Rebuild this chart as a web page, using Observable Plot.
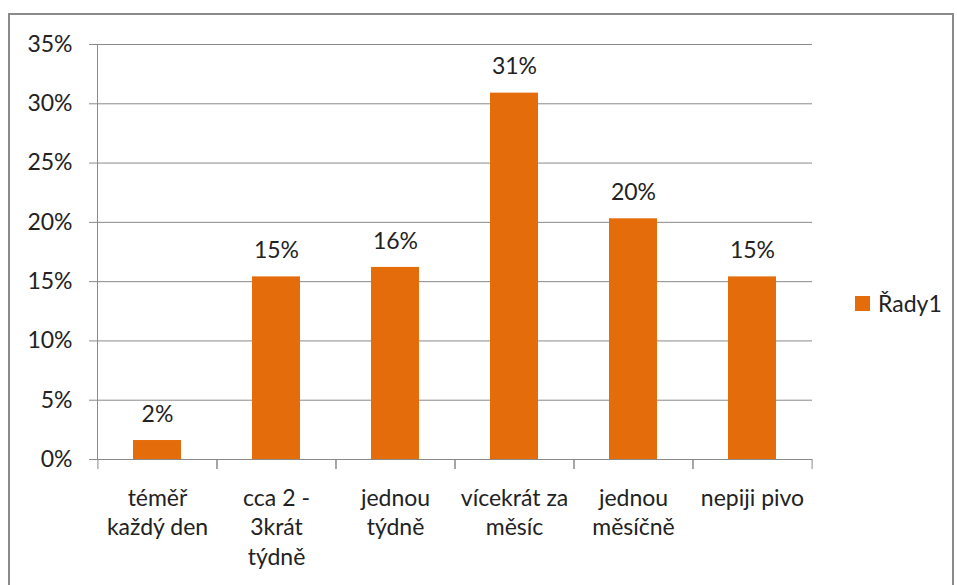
<!DOCTYPE html>
<html>
<head>
<meta charset="utf-8">
<script src="https://cdn.jsdelivr.net/npm/d3@7"></script>
<script src="https://cdn.jsdelivr.net/npm/@observablehq/plot@0.6"></script>
<style>
  html, body { margin: 0; padding: 0; background: #fff; }
  #wrap { position: relative; width: 957px; height: 585px; overflow: hidden; font-family: Lato, sans-serif; }
  #border { position: absolute; left: 8px; top: 13px; width: 946px; height: 620px; box-sizing: border-box; border: 2px solid #8a8a8a; }
  #chart { position: absolute; left: 0; top: 0; }
  #legend { position: absolute; left: 855px; top: 289px; display: flex; align-items: center; font-size: 23px; color: #222; }
  #legend .sw { width: 15px; height: 15px; margin-right: 8px; }
</style>
</head>
<body>
<div id="wrap">
  <div id="border"></div>
  <div id="chart"></div>
  <div id="legend"><div class="sw"></div><span id="legendText"></span></div>
</div>
<script>
const categories = ["téměř každý den", "cca 2 - 3krát týdně", "jednou týdně", "vícekrát za měsíc", "jednou měsíčně", "nepiji pivo"];
const tickLabels = ["téměř\nkaždý den", "cca 2 -\n3krát\ntýdně", "jednou\ntýdně", "vícekrát za\nměsíc", "jednou\nměsíčně", "nepiji pivo"];
const values = [1.6, 15.4, 16.2, 30.9, 20.3, 15.4];
const valueLabels = ["2%", "15%", "16%", "31%", "20%", "15%"];
const yTicks = [0, 5, 10, 15, 20, 25, 30, 35];
const seriesName = "Řady1";

const barColor = "#E46C0A";
const gridColor = "#8a8a8a";
const textColor = "#222";
const fs = 23;
const W = 957, H = 585, mL = 97, mR = 145, mT = 44, mB = 126;
const step = (W - mL - mR) / categories.length;

const chart = Plot.plot({
  width: W, height: H,
  marginLeft: mL, marginRight: mR, marginTop: mT, marginBottom: mB,
  style: { fontFamily: "Lato, sans-serif", fontSize: fs + "px", color: textColor, background: "transparent", overflow: "visible" },
  x: { domain: categories, paddingInner: 0.6, paddingOuter: 0.3, label: null },
  y: { domain: [0, 35], ticks: yTicks, label: null },
  marks: [
    Plot.gridY(yTicks, { stroke: gridColor, strokeOpacity: 1 }),
    Plot.axisY(yTicks, { tickSize: 8, tickPadding: 17, stroke: gridColor, fill: textColor, fontSize: fs, tickFormat: d => d + "%" }),
    Plot.frame({ anchor: "left", stroke: gridColor }),
    Plot.axisX({ tickSize: 10, dx: -step / 2, stroke: gridColor, tickFormat: () => "" }),
    Plot.axisX({ tickSize: 10, dx: step / 2, stroke: gridColor, tickFormat: () => "" }),
    Plot.axisX({ tickSize: 0, tickPadding: 26, fill: textColor, fontSize: fs, lineHeight: 1.27, tickFormat: d => tickLabels[categories.indexOf(d)] }),
    Plot.barY(values, { x: (d, i) => categories[i], y: d => d, fill: barColor }),
    Plot.text(values, { x: (d, i) => categories[i], y: d => d, text: (d, i) => valueLabels[i], dy: -26, fill: textColor, fontSize: fs })
  ]
});
document.getElementById("chart").appendChild(chart);
document.querySelector("#legend .sw").style.background = barColor;
document.getElementById("legendText").textContent = seriesName;
</script>
</body>
</html>
